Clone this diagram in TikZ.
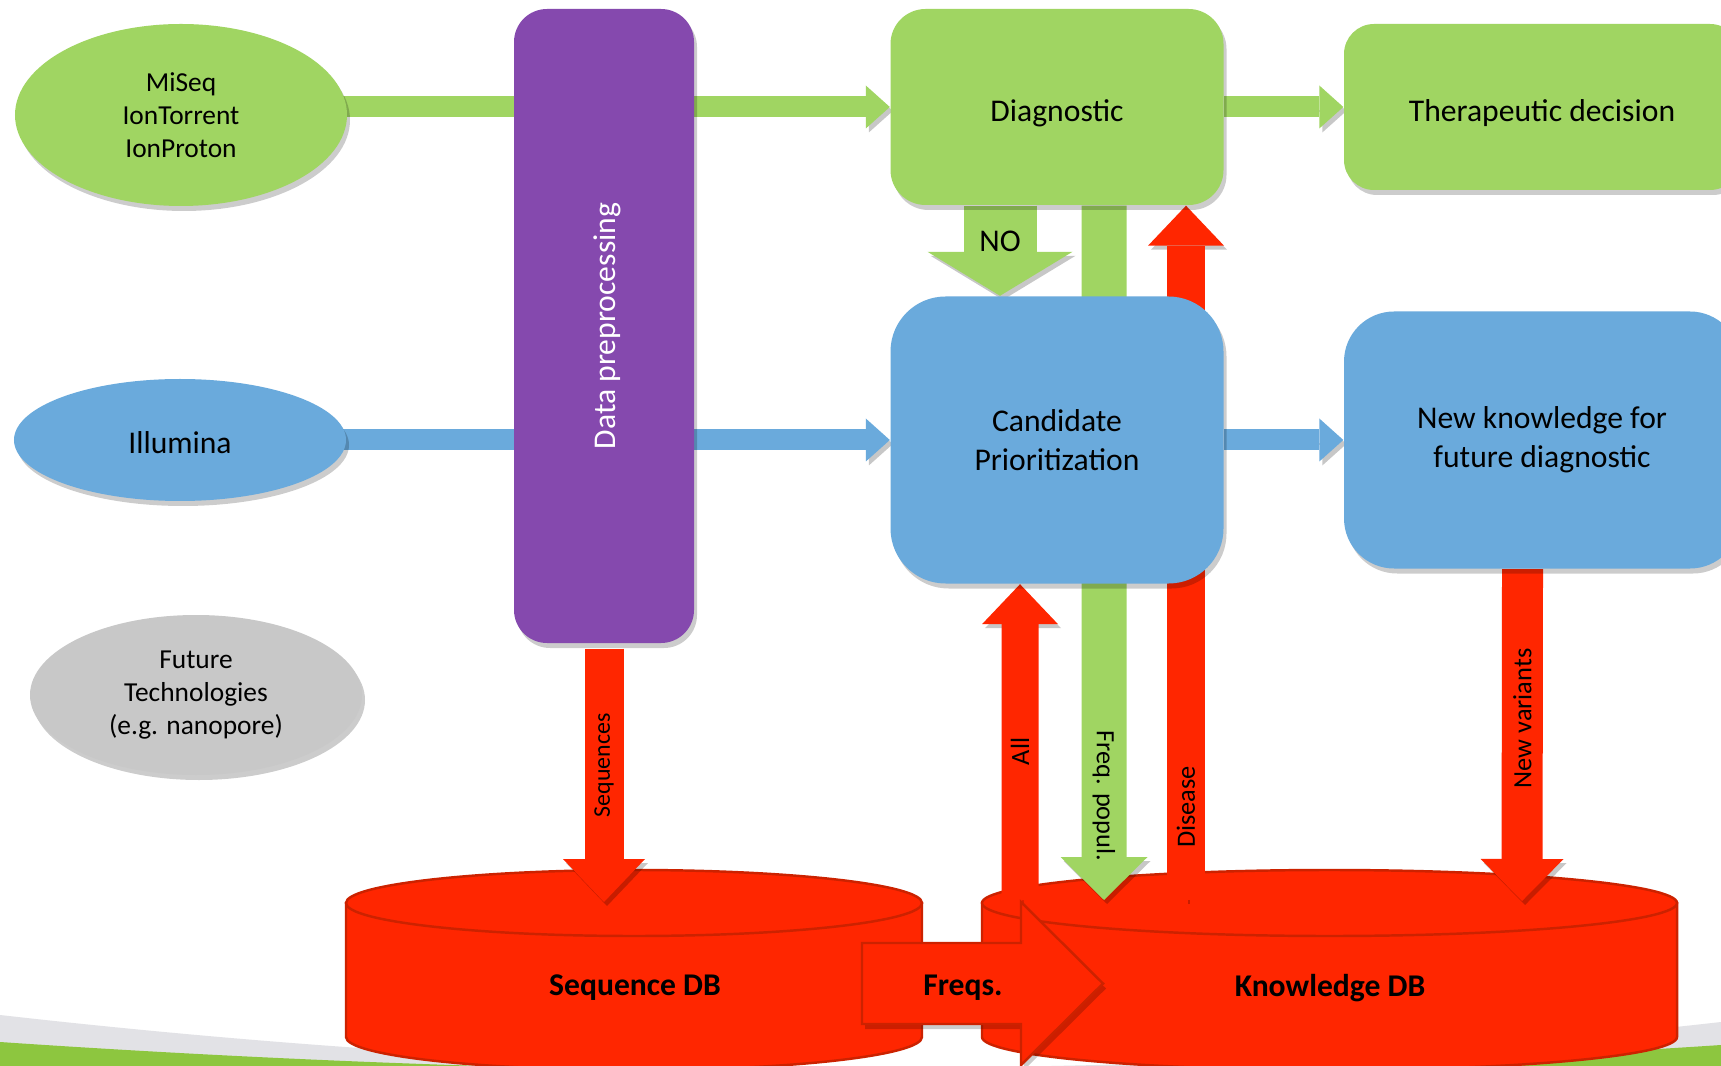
\documentclass[tikz,border=0pt]{standalone}
\usepackage{fontspec}
\setmainfont{Carlito}
\usetikzlibrary{positioning,shapes.geometric,arrows.meta,shadows}

\definecolor{leafgreen}{RGB}{160,213,98}
\definecolor{skyblue}{RGB}{106,170,220}
\definecolor{grape}{RGB}{133,73,174}
\definecolor{stone}{RGB}{200,200,200}
\definecolor{dbred}{RGB}{255,38,0}
\definecolor{dbedge}{RGB}{204,34,0}
\definecolor{swooshgreen}{RGB}{141,198,63}
\definecolor{swooshgray}{RGB}{226,226,230}

\pgfdeclarelayer{bg}
\pgfsetlayers{bg,main}

% database drum: centre x, half width, y of top rim, y of bottom rim
\newcommand{\dbdrum}[4]{%
  \filldraw[dbfill] ({#1-#2},#3) -- ({#1-#2},#4) arc[start angle=180, end angle=360, x radius=#2, y radius=0.33] -- ({#1+#2},#3) -- cycle;
  \filldraw[dbfill] (#1,#3) ellipse[x radius=#2, y radius=0.33];
}

\tikzset{
  softshadow/.style={drop shadow={shadow xshift=0.03cm, shadow yshift=-0.05cm, opacity=0.2, fill=black}},
  arrowshadow/.style={preaction={draw=black, opacity=0.22, transform canvas={xshift=0.03cm, yshift=-0.04cm}}},
  dbfill/.style={fill=dbred, draw=dbedge, line width=0.7pt}
}

\begin{document}
\begin{tikzpicture}[node distance=3.33cm,
    platform/.style={ellipse, minimum width=3.32cm, align=center, inner sep=0pt, font=\fontsize{7.8}{9.4}\selectfont, softshadow},
    procbox/.style={rectangle, rounded corners=0.35cm, align=center, font=\fontsize{9}{11}\selectfont, softshadow},
    garrow/.style={leafgreen, line width=0.21cm, arrowshadow, -{Triangle[width=0.43cm, length=0.24cm, line width=0pt]}},
    barrow/.style={skyblue, line width=0.21cm, arrowshadow, -{Triangle[width=0.43cm, length=0.24cm, line width=0pt]}},
    rarrow/.style={dbred, line width=0.38cm, arrowshadow, -{Triangle[width=0.76cm, length=0.40cm, line width=0pt]}},
    arrowtext/.style={text=black, inner sep=0pt, font=\fontsize{7.5}{9}\selectfont},
    dbtext/.style={text=black, font=\fontsize{9}{11}\selectfont\bfseries}]

\useasboundingbox (0,0) rectangle (17.21,-10.66);

% Sources
\node[platform, fill=leafgreen, minimum height=1.82cm] (miseq) at (1.81,-1.15) {MiSeq\\IonTorrent\\IonProton};
\node[procbox, fill=leafgreen, minimum width=3.33cm, minimum height=1.96cm] (diag) at (10.57,-1.07) {\raisebox{-0.06cm}[\height][\depth]{Diagnostic}};
\node[procbox, fill=leafgreen, right of=diag, node distance=4.85cm, minimum width=3.96cm, minimum height=1.66cm, rounded corners=0.3cm] (thera) {\raisebox{-0.06cm}[\height][\depth]{Therapeutic decision}};
\node[procbox, fill=skyblue, below of=diag, minimum width=3.33cm, minimum height=2.87cm, rounded corners=0.55cm] (cand) {Candidate\\Prioritization};
\node[procbox, fill=skyblue, right of=cand, node distance=4.85cm, minimum width=3.96cm, minimum height=2.57cm, rounded corners=0.5cm] (newk) {New knowledge for\\future diagnostic};
\node[platform, fill=skyblue, left of=cand, node distance=8.77cm, minimum height=1.22cm, font=\fontsize{9}{11}\selectfont] (illumina) {\raisebox{-0.03cm}[\height][\depth]{Illumina}};
\node[platform, fill=stone, below of=illumina, node distance=2.55cm, xshift=0.16cm, minimum height=1.60cm] (future) {Future\\Technologies\\(e.g. nanopore)};

% Preprocessing
\node[procbox, fill=grape, minimum width=1.80cm, minimum height=6.34cm, rounded corners=0.33cm] (prep) at (6.04,-3.26) {};
\node[rotate=90, text=white, font=\fontsize{9}{11}\selectfont] (preplabel) at ([xshift=0.03cm]prep) {Data preprocessing};

% Databases
\coordinate (seqtop) at (6.04,-9.02);
\coordinate (kdball) at (10.20,-9.00);
\coordinate (kdbfreq) at (11.04,-9.00);
\coordinate (kdbdis) at (11.86,-9.00);
\coordinate (kdbnew) at (15.22,-9.01);

\begin{pgfonlayer}{bg}
\fill[white] (0,0) rectangle (17.21,-10.66);
\fill[swooshgray] (0,-10.15) .. controls (5.74,-10.80) and (11.47,-10.87) .. (17.21,-10.22) -- (17.21,-10.66) -- (0,-10.66) -- cycle;
\fill[swooshgreen] (0,-10.42) .. controls (5.74,-10.81) and (11.47,-10.83) .. (17.21,-10.45) -- (17.21,-10.66) -- (0,-10.66) -- cycle;
\dbdrum{6.34}{2.88}{-9.03}{-10.37}
\dbdrum{13.295}{3.475}{-9.03}{-10.37}

% Connections
\draw[garrow] (miseq |- diag) -- (diag.west);
\draw[garrow] (diag.east) -- (thera.west);
\draw[barrow] (illumina |- cand) -- (cand.west);
\draw[barrow] (cand.east) -- (newk.west);
\draw[garrow, line width=0.73cm, -{Triangle[width=1.45cm, length=0.44cm, line width=0pt]}] ([xshift=-0.57cm]diag.south) -- node[arrowtext, pos=0.4, font=\fontsize{9}{11}\selectfont] (notext) {NO} ([xshift=-0.57cm]cand.north);
\draw[garrow, line width=0.45cm, -{Triangle[width=0.87cm, length=0.43cm, line width=0pt]}] ([xshift=0.47cm]diag.south) -- node[arrowtext, pos=0.85, rotate=-90] (freqtext) {Freq. popul.} (kdbfreq);
\draw[rarrow] (kdbdis) -- node[arrowtext, pos=0.134, rotate=90] (distext) {Disease} ([xshift=1.29cm]diag.south);
\draw[rarrow, line width=0.37cm] (kdball) -- node[arrowtext, pos=0.47, rotate=90] (alltext) {All} ([xshift=-0.37cm]cand.south);
\draw[rarrow, line width=0.39cm, -{Triangle[width=0.82cm, length=0.43cm, line width=0pt]}] ([yshift=-0.05cm]prep.south) -- node[arrowtext, pos=0.46, rotate=90, font=\fontsize{6.8}{8}\selectfont] (seqtext) {Sequences} (seqtop);
\draw[rarrow, line width=0.41cm, -{Triangle[width=0.83cm, length=0.42cm, line width=0pt]}] ([xshift=-0.195cm]newk.south) -- node[arrowtext, pos=0.45, rotate=90] (newtext) {New variants} (kdbnew);
\end{pgfonlayer}

% Frequencies between the databases
\filldraw[dbfill, softshadow] (8.62,-9.43) -- (10.21,-9.43) -- (10.21,-9.02) -- (11.03,-9.835) -- (10.21,-10.65) -- (10.21,-10.24) -- (8.62,-10.24) -- cycle;
\node[dbtext] (seqdb) at (6.35,-9.88) {Sequence DB};
\node[dbtext] (freqs) at (9.63,-9.88) {Freqs.};
\node[dbtext] (kdb) at (13.30,-9.88) {Knowledge DB};

\end{tikzpicture}
\end{document}
